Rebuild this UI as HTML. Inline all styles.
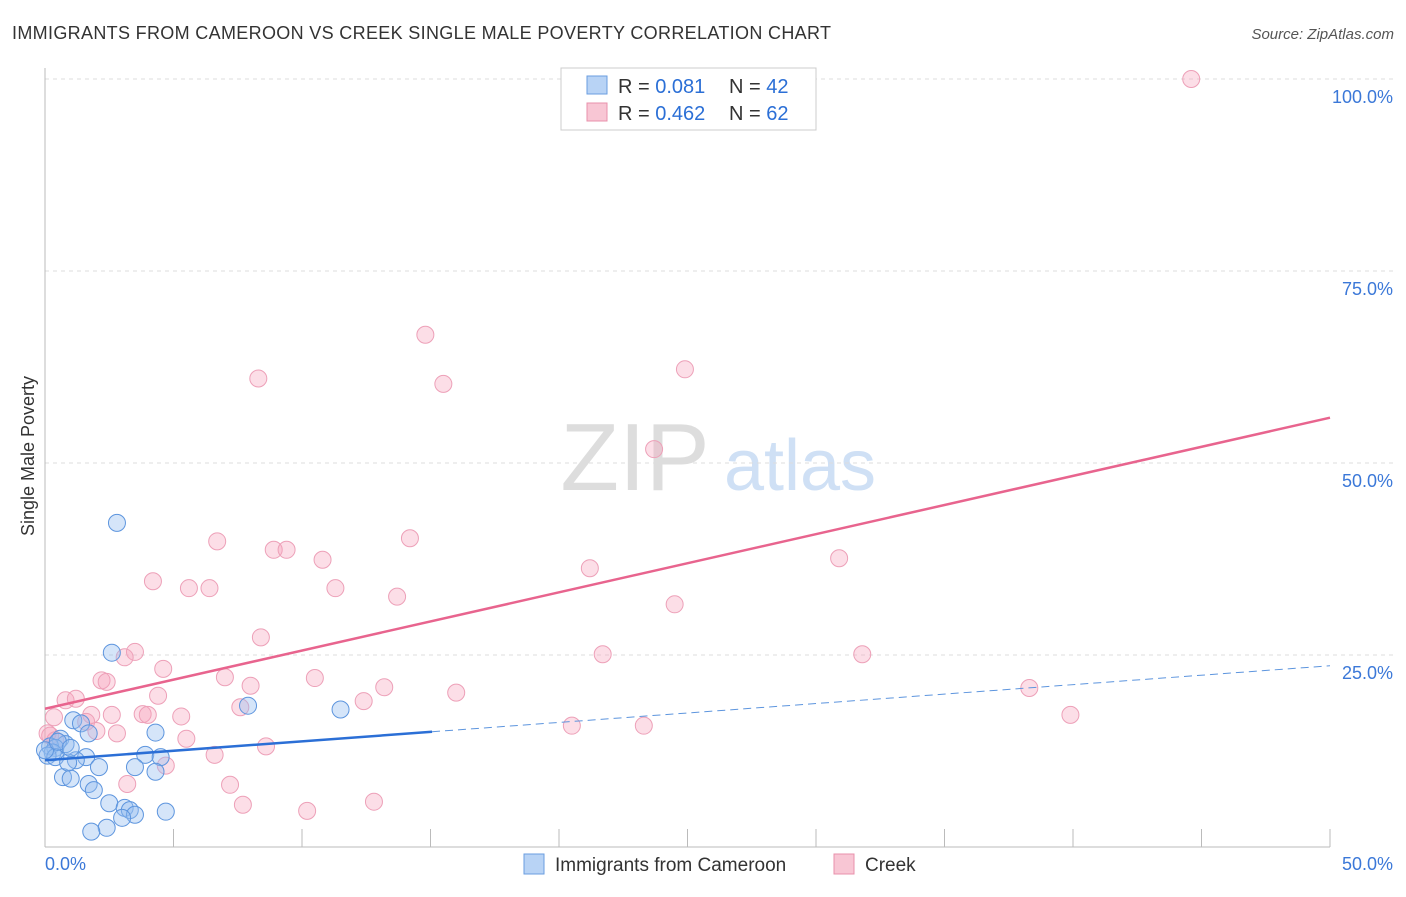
<!DOCTYPE html>
<html><head><meta charset="utf-8"><style>
body{margin:0;background:#fff;font-family:"Liberation Sans",sans-serif;}
svg text{font-family:"Liberation Sans",sans-serif;}
</style></head><body>
<svg id="chart" width="1406" height="892" xmlns="http://www.w3.org/2000/svg">
<text x="12" y="39" font-size="18" fill="#333" textLength="819">IMMIGRANTS FROM CAMEROON VS CREEK SINGLE MALE POVERTY CORRELATION CHART</text>
<text x="1394" y="39" font-size="15" fill="#555" font-style="italic" text-anchor="end">Source: ZipAtlas.com</text>
<text x="34" y="456" font-size="18" fill="#333" transform="rotate(-90 34 456)" text-anchor="middle">Single Male Poverty</text>
<g><text x="635" y="490" font-size="96" fill="#ddd" font-family="Liberation Serif" text-anchor="middle">ZIP</text><text x="800" y="490" font-size="72" fill="#cfe0f5" text-anchor="middle">atlas</text></g>
<g id="grid"></g><g id="axes"></g><g id="pts"></g><g id="lines"></g>
<g>
<rect x="561" y="68" width="255" height="62" fill="#fff" stroke="#ccc"/>
<rect x="587" y="76" width="20" height="18" fill="#b8d3f5" stroke="#6a9ee0"/>
<text x="618" y="93" font-size="20" fill="#333">R = <tspan fill="#2b6fd6">0.081</tspan></text>
<text x="729" y="93" font-size="20" fill="#333">N = <tspan fill="#2b6fd6">42</tspan></text>
<rect x="587" y="103" width="20" height="18" fill="#f8c6d4" stroke="#e890ab"/>
<text x="618" y="120" font-size="20" fill="#333">R = <tspan fill="#2b6fd6">0.462</tspan></text>
<text x="729" y="120" font-size="20" fill="#333">N = <tspan fill="#2b6fd6">62</tspan></text>
</g>
<g>
<rect x="524" y="854" width="20" height="20" fill="#b8d3f5" stroke="#6a9ee0"/>
<text x="555" y="871" font-size="19" fill="#333">Immigrants from Cameroon</text>
<rect x="834" y="854" width="20" height="20" fill="#f8c6d4" stroke="#e890ab"/>
<text x="865" y="871" font-size="19" fill="#333">Creek</text>
</g>
</svg>
<script>
const yTicks=[25,50,75,100];
const yTickLabels=["25.0%","50.0%","75.0%","100.0%"];
const xTickLabels=["0.0%","50.0%"];
const blueX=[2.8,2.6,7.9,11.5,1.1,1.4,1.7,4.3,0.6,0.8,0.2,0.4,1.6,2.1,3.9,4.5,3.5,4.3,0.7,1.0,1.7,1.9,2.5,3.1,3.3,3.5,3.0,4.7,2.4,1.8,0.3,0.1,0.4,1.2,0.9,0.0,0.5,1.0];
const blueY=[42.2,25.3,18.4,17.9,16.5,16.1,14.8,14.9,14.1,13.4,13.1,12.9,11.7,10.4,12.0,11.7,10.4,9.8,9.1,8.9,8.2,7.4,5.7,5.1,4.8,4.2,3.8,4.6,2.5,2.0,12.3,11.9,11.7,11.3,11.0,12.6,13.7,12.9];
const pinkX=[44.6,14.8,8.3,15.5,24.9,23.7,6.7,14.2,8.9,9.4,10.8,4.2,5.6,6.4,11.3,13.7,21.2,24.5,30.9,8.4,3.5,3.1,4.6,21.7,31.8,2.2,2.4,7.0,8.0,10.5,13.2,0.8,1.2,4.4,16.0,38.3,12.4,7.6,1.8,2.6,3.8,4.0,5.3,39.9,0.35,1.6,2.0,2.8,20.5,23.3,5.5,8.6,6.6,4.7,3.2,7.2,7.7,10.2,12.8,0.2,0.4,0.1];
const pinkY=[100,66.7,61.0,60.3,62.2,51.8,39.8,40.2,38.7,38.7,37.4,34.6,33.7,33.7,33.7,32.6,36.3,31.6,37.6,27.3,25.4,24.7,23.2,25.1,25.1,21.7,21.5,22.1,21.0,22.0,20.8,19.1,19.3,19.7,20.1,20.7,19.0,18.2,17.2,17.2,17.3,17.2,17.0,17.2,16.9,16.3,15.1,14.8,15.8,15.8,14.1,13.1,12.0,10.6,8.2,8.1,5.5,4.7,5.9,14.5,13.9,14.8];
const blueTrend=[11.3,23.6], blueSolidEnd=15.06;
const pinkTrend=[18.0,55.9];
const X=v=>45+v*25.7, Y=v=>847-v*7.68;
const NS="http://www.w3.org/2000/svg";
function mk(t,a,p){const e=document.createElementNS(NS,t);for(const k in a)e.setAttribute(k,a[k]);p.appendChild(e);return e;}
const grid=document.getElementById('grid'),axes=document.getElementById('axes'),pts=document.getElementById('pts'),lines=document.getElementById('lines');
yTicks.forEach((t,i)=>{
 const l=mk('line',{x1:45,x2:1394,y1:Y(t),y2:Y(t),stroke:'#ddd','stroke-dasharray':'4,4'},grid);
 
 
 const tx=mk('text',{x:1393,y:Y(t)+24,'font-size':18,fill:'#3b78d8','text-anchor':'end'},axes);
 tx.textContent=yTickLabels[i];
 
 
});
mk('line',{x1:45,x2:45,y1:68,y2:847,stroke:'#bbb'},axes);
mk('line',{x1:45,x2:1330,y1:847,y2:847,stroke:'#bbb'},axes);
for(let i=1;i<=10;i++){mk('line',{x1:X(i*5),x2:X(i*5),y1:829,y2:847,stroke:'#bbb'},axes);}
xTickLabels.forEach((s,i)=>{const tx=mk('text',{x:i?1393:45,y:870,'font-size':18,fill:'#3b78d8','text-anchor':i?'end':'start'},axes);tx.textContent=s;
 
 });
pinkX.forEach((x,i)=>{const c=mk('circle',{cx:X(x),cy:Y(pinkY[i]),r:8.5,fill:'rgba(245,160,185,0.35)',stroke:'#eda0b8','stroke-width':1},pts);
 
 });
blueX.forEach((x,i)=>{const c=mk('circle',{cx:X(x),cy:Y(blueY[i]),r:8.5,fill:'rgba(150,190,240,0.4)',stroke:'#5d95de','stroke-width':1},pts);
 
 });
const by=x=>blueTrend[0]+(blueTrend[1]-blueTrend[0])*x/50;
const l1=mk('line',{x1:X(0),y1:Y(pinkTrend[0]),x2:X(50),y2:Y(pinkTrend[1]),stroke:'#e8648e','stroke-width':2.5},lines);


const l2=mk('line',{x1:X(0),y1:Y(by(0)),x2:X(blueSolidEnd),y2:Y(by(blueSolidEnd)),stroke:'#2b6fd6','stroke-width':2.5},lines);


const l3=mk('line',{x1:X(blueSolidEnd),y1:Y(by(blueSolidEnd)),x2:X(50),y2:Y(by(50)),stroke:'#5d95de','stroke-width':1,'stroke-dasharray':'8,5'},lines);


</script>
</body></html>
